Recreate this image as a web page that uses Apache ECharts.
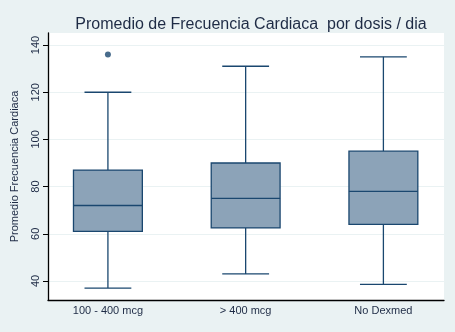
<!DOCTYPE html>
<html>
<head>
<meta charset="utf-8">
<script src="https://cdn.jsdelivr.net/npm/echarts@6/dist/echarts.min.js"></script>
<style>
  html, body { margin: 0; padding: 0; background: #eaf2f3; }
  #chart { width: 455px; height: 332px; }
</style>
</head>
<body>
<div id="chart"></div>
<script>
// groups on a value x axis (positions 1..3)
const groups = ['100 - 400 mcg', '> 400 mcg', 'No Dexmed']
const positions = [1, 2, 3]
// [low whisker, q1, median, q3, high whisker]
const boxStats = [
  [37, 61, 72, 87, 120],
  [43, 62.5, 75, 90, 131],
  [38.6, 64, 78, 95, 135]
]
const outliers = [[1, 136]]
const yTicks = [40, 60, 80, 100, 120, 140]

const navy = '#1a476f'
const boxFill = '#8ca3b8'
const font = 'Liberation Sans, Arial, sans-serif'

const boxData = boxStats.map((s, i) => [positions[i]].concat(s))

const chart = echarts.init(document.getElementById('chart'), null, { renderer: 'canvas' })

function renderBox(params, api) {
  const x = api.value(0)
  const lo = api.coord([x, api.value(1)])
  const q1 = api.coord([x, api.value(2)])
  const med = api.coord([x, api.value(3)])
  const q3 = api.coord([x, api.value(4)])
  const hi = api.coord([x, api.value(5)])
  const boxW = api.size([0.5, 0])[0]
  const capW = api.size([0.34, 0])[0]
  const cx = lo[0]
  const line = { stroke: navy, lineWidth: 1.3 }
  return {
    type: 'group',
    children: [
      { type: 'line', shape: { x1: cx, y1: q3[1], x2: cx, y2: hi[1] }, style: line },
      { type: 'line', shape: { x1: cx, y1: q1[1], x2: cx, y2: lo[1] }, style: line },
      { type: 'line', shape: { x1: cx - capW / 2, y1: hi[1], x2: cx + capW / 2, y2: hi[1] }, style: line },
      { type: 'line', shape: { x1: cx - capW / 2, y1: lo[1], x2: cx + capW / 2, y2: lo[1] }, style: line },
      { type: 'rect', shape: { x: cx - boxW / 2, y: q3[1], width: boxW, height: q1[1] - q3[1] },
        style: { fill: boxFill, stroke: navy, lineWidth: 1.3 } },
      { type: 'line', shape: { x1: cx - boxW / 2, y1: med[1], x2: cx + boxW / 2, y2: med[1] }, style: line }
    ]
  }
}

chart.setOption({
  backgroundColor: '#eaf2f3',
  animation: false,
  title: {
    text: 'Promedio de Frecuencia Cardiaca  por dosis / dia',
    left: 246,
    textAlign: 'center',
    top: 12,
    textStyle: { fontFamily: font, fontSize: 16, fontWeight: 'normal', color: '#1e2b45' }
  },
  grid: { left: 48, top: 33, right: 11, bottom: 32, backgroundColor: '#fff', show: true, borderWidth: 0 },
  xAxis: {
    type: 'value',
    min: 0.565,
    max: 3.44,
    axisLine: { show: true, lineStyle: { color: '#000', width: 1.3 } },
    axisTick: { show: false },
    splitLine: { show: false },
    axisLabel: {
      customValues: positions,
      formatter: v => groups[positions.indexOf(v)] || '',
      fontFamily: font, fontSize: 11, color: '#1e2b45', margin: 5
    }
  },
  yAxis: {
    type: 'value',
    min: 31.95,
    max: 145.1,
    name: 'Promedio Frecuencia Cardiaca',
    nameLocation: 'middle',
    nameGap: 28,
    nameTextStyle: { fontFamily: font, fontSize: 11, color: '#1e2b45' },
    axisLine: { show: true, lineStyle: { color: '#000', width: 1.3 } },
    axisTick: { show: true, customValues: yTicks, length: 5, lineStyle: { color: '#000' } },
    axisLabel: {
      customValues: yTicks,
      rotate: 90,
      fontFamily: font, fontSize: 11, color: '#1e2b45', margin: 7
    },
    splitLine: { show: true, lineStyle: { color: '#eaf2f3', width: 1 } }
  },
  series: [
    {
      type: 'custom',
      renderItem: renderBox,
      data: boxData,
      encode: { x: 0, y: [1, 2, 3, 4, 5] }
    },
    {
      type: 'scatter',
      data: outliers,
      symbolSize: 6,
      itemStyle: { color: navy }
    }
  ]
})
</script>
</body>
</html>
